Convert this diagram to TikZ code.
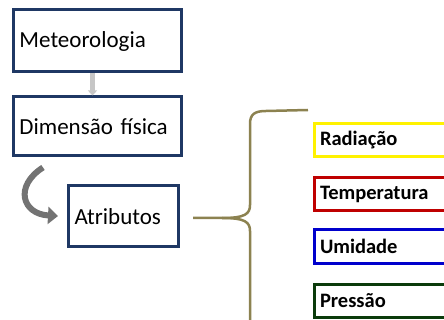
\documentclass[tikz,border=0pt]{standalone}
\usepackage{fontspec}
\setmainfont{Carlito}
\usetikzlibrary{positioning, arrows.meta, calc}
\definecolor{caixa}{HTML}{1F3864}
\definecolor{chave}{HTML}{8C8250}
\definecolor{verde}{HTML}{0B3B0B}

\begin{document}
\begin{tikzpicture}[x=1pt, y=-1pt,
    every node/.style={font=\fontsize{23}{27}\selectfont},
    bloco/.style={draw=caixa, line width=3pt, align=left, inner xsep=6pt},
    atrib/.style={draw=#1, line width=3pt, anchor=west, minimum height=33pt,
      text width=140pt, align=left, inner xsep=6pt, font=\fontsize{20.5}{24}\selectfont\bfseries}]
    \useasboundingbox (0,0) rectangle (444,320);
    \clip (0,0) rectangle (444,320);
    % Caixas principais
    \node[bloco, text width=156pt, minimum height=62pt] (met) at (97.5,41) {Meteorologia};
    \node[bloco, text width=156pt, minimum height=59pt] (dim) at (97.5,126.5) {Dimensão física};
    \node[bloco, text width=98pt, minimum height=61pt] (atr) at (123.5,216.5) {Atributos};
    % Seta entre as caixas
    \draw[line width=5pt, gray!45, -{Triangle[length=5pt, width=9pt]}]
      ([xshift=-5pt]met.south) -- ([xshift=-5pt]dim.north);
    % Seta curva
    \coordinate (ini) at ($(dim.south west)+(31,10)$);
    \draw[line width=6pt, black!55, shorten >=9pt, -{Triangle[length=10pt, width=17pt]}]
      (ini) .. controls (14,186) and (22,214) .. (atr.west);
    % Chave
    \coordinate (bico) at ($(atr.east)+(13,1.5)$);
    \draw[chave, line width=2.5pt] (bico) -- (222,218)
      .. controls (245,218) and (250,214) .. (250,205) -- (250,124)
      .. controls (250,114) and (255,111) .. (266,111) -- (308,110);
    \draw[chave, line width=2.5pt] (222,218)
      .. controls (245,218) and (250,222) .. (250,231) -- (250,324);
    % Atributos
    \foreach \pos/\nome/\cor/\txt in {
      140.5/rad/yellow/Radiação,
      194/tem/red!75!black/Temperatura,
      246.5/umi/blue!80!black/Umidade,
      300.5/pre/verde/Pressão
    }
    {
      \node[atrib=\cor] (\nome) at (312.5,\pos) {\txt};
    }
  \end{tikzpicture}
\end{document}
